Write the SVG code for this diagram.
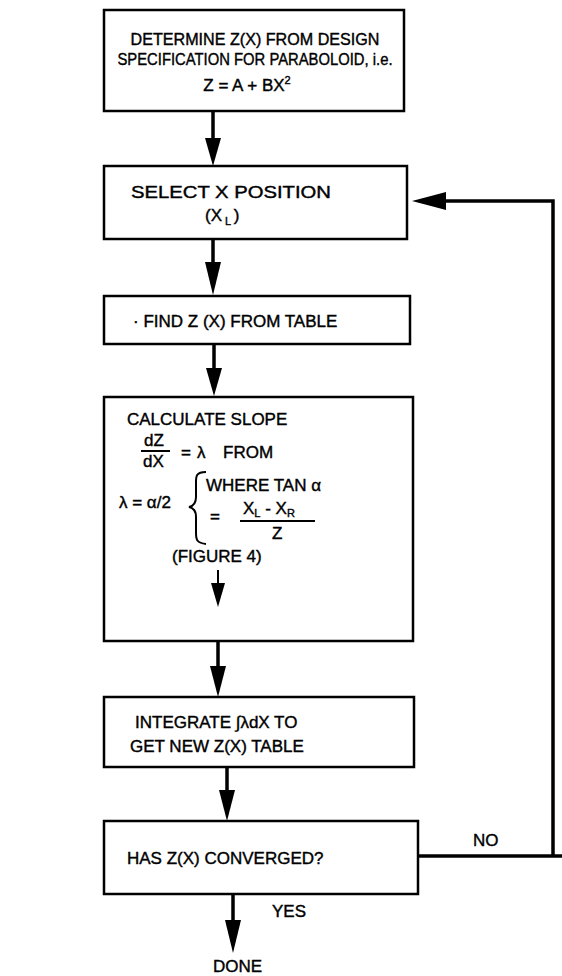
<svg xmlns="http://www.w3.org/2000/svg" width="562" height="976" viewBox="0 0 562 976">
<defs>
<style>
.box{fill:none;stroke:#000;stroke-width:2.5}
.t{font-family:"Liberation Sans",Arial,sans-serif;font-size:17px;fill:#000;stroke:#000;stroke-width:0.4}
.s{font-size:11px}
.ln{stroke:#000;stroke-width:3.5;fill:none}
.thin{stroke:#000;stroke-width:2;fill:none}
</style>
</defs>
<rect width="562" height="976" fill="#fff"/>
<g id="connectors">
<line class="ln" x1="213" y1="112" x2="213" y2="140"/>
<polygon points="205,138 221,138 213,166"/>
<line class="ln" x1="213" y1="239" x2="213" y2="264"/>
<polygon points="205,262 221,262 213,295"/>
<line class="ln" x1="214" y1="344" x2="214" y2="370"/>
<polygon points="206,368 222,368 214,396"/>
<line class="thin" x1="218" y1="570" x2="218" y2="586"/>
<polygon points="211,583 225,583 218,607"/>
<line class="ln" x1="218" y1="641" x2="218" y2="668"/>
<polygon points="210,666 226,666 218,697"/>
<line class="ln" x1="227" y1="767" x2="227" y2="792"/>
<polygon points="219,790 235,790 227,821"/>
<line class="ln" x1="233" y1="894" x2="233" y2="922"/>
<polygon points="225,920 241,920 233,953"/>
<polyline class="ln" points="418,856 562,856"/>
<polyline class="ln" points="553,856 553,201 443,201"/>
<polygon points="412,201 446,192 446,210"/>
</g>
<g id="n1">
<rect class="box" x="104" y="10" width="300" height="101"/>
<text class="t" x="255" y="45" text-anchor="middle" textLength="249" lengthAdjust="spacingAndGlyphs">DETERMINE Z(X) FROM DESIGN</text>
<text class="t" x="255" y="65" text-anchor="middle" textLength="275" lengthAdjust="spacingAndGlyphs">SPECIFICATION FOR PARABOLOID, i.e.</text>
<text class="t" x="247" y="91" text-anchor="middle">Z = A + BX<tspan class="s" dy="-7">2</tspan></text>
</g>
<g id="n2">
<rect class="box" x="104" y="166" width="303" height="73"/>
<text class="t" x="131" y="198" textLength="200" lengthAdjust="spacingAndGlyphs">SELECT X POSITION</text>
<text class="t" x="205" y="221">(X<tspan class="s" dy="4"> L </tspan><tspan dy="-4">)</tspan></text>
</g>
<g id="n3">
<rect class="box" x="104" y="296" width="306" height="48"/>
<text class="t" x="133" y="327">· FIND Z (X) FROM TABLE</text>
</g>
<g id="n4">
<rect class="box" x="104" y="397" width="309" height="244"/>
<text class="t" x="127" y="425">CALCULATE SLOPE</text>
<text class="t" x="144" y="446">dZ</text>
<line class="thin" x1="141" y1="451" x2="170" y2="451" stroke-width="1.5"/>
<text class="t" x="143" y="467">dX</text>
<text class="t" x="181" y="458">=</text>
<text class="t" x="197" y="458">λ</text>
<text class="t" x="223" y="458">FROM</text>
<text class="t" x="119" y="508">λ = α/2</text>
<path class="thin" d="M206,472 C195,472 196,477 196,485 L196,497 C196,503 194,506 189,507 C194,508 196,511 196,517 L196,533 C196,540 197,543 206,544"/>
<text class="t" x="206" y="491">WHERE TAN α</text>
<text class="t" x="210" y="522">=</text>
<text class="t" x="243" y="514">X<tspan class="s" dy="3">L</tspan><tspan dy="-3"> - X</tspan><tspan class="s" dy="3">R</tspan></text>
<line class="thin" x1="240" y1="521" x2="315" y2="521" stroke-width="1.5"/>
<text class="t" x="272" y="539">Z</text>
<text class="t" x="172" y="562">(FIGURE 4)</text>
</g>
<g id="n5">
<rect class="box" x="104" y="697" width="310" height="70"/>
<text class="t" x="135" y="728">INTEGRATE ∫λdX TO</text>
<text class="t" x="130" y="752">GET NEW Z(X) TABLE</text>
</g>
<g id="n6">
<rect class="box" x="104" y="821" width="314" height="73"/>
<text class="t" x="127" y="864">HAS Z(X) CONVERGED?</text>
</g>
<g id="labels">
<text class="t" x="473" y="846">NO</text>
<text class="t" x="272" y="917">YES</text>
<text class="t" x="213" y="972">DONE</text>
</g>
</svg>
